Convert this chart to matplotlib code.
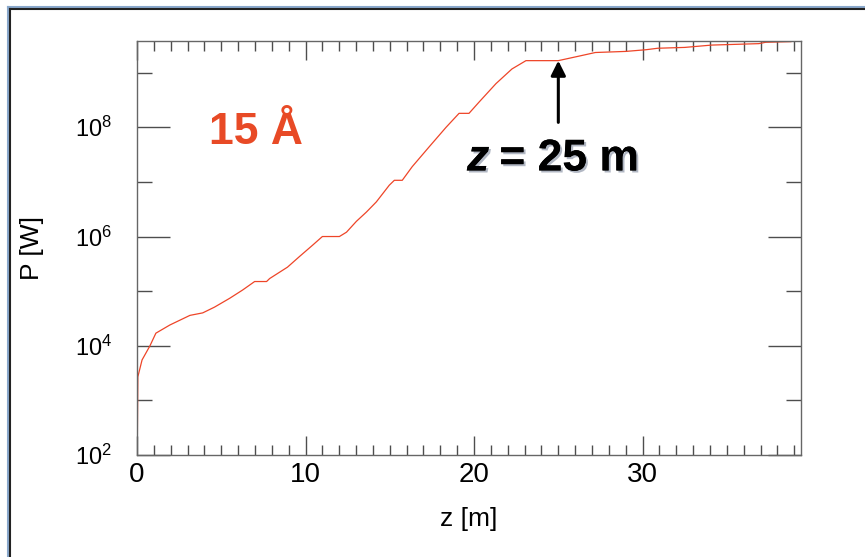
import matplotlib
matplotlib.use("Agg")
import matplotlib.pyplot as plt
import matplotlib.ticker as mticker
import matplotlib.patheffects as pe
from matplotlib.lines import Line2D

#Data
z_m = [0.0, 0.05, 0.3, 0.77, 1.12, 1.95, 3.14, 3.9, 4.6, 5.5, 6.27, 6.98, 7.69, 7.87,
       8.93, 9.64, 10.41, 11.0, 12.01, 12.43, 13.02, 13.61, 14.2, 14.97, 15.27, 15.74,
       16.33, 17.34, 18.34, 19.11, 19.7, 20.3, 21.3, 22.25, 23.08, 24.6, 25.0, 26.2,
       27.2, 29.0, 30.2, 30.9, 32.5, 34.1, 36.9, 37.3, 38.8]
power_W = [3.2e1, 2.7e3, 5.5e3, 1.0e4, 1.7e4, 2.4e4, 3.6e4, 4.0e4, 5.1e4, 7.4e4,
           1.05e5, 1.5e5, 1.5e5, 1.7e5, 2.75e5, 4.3e5, 6.9e5, 1.0e6, 1.0e6, 1.2e6,
           1.9e6, 2.8e6, 4.3e6, 8.7e6, 1.07e7, 1.07e7, 1.9e7, 4.4e7, 1.0e8, 1.8e8,
           1.8e8, 2.9e8, 6.3e8, 1.17e9, 1.66e9, 1.66e9, 1.66e9, 2.0e9, 2.34e9, 2.45e9,
           2.63e9, 2.8e9, 2.9e9, 3.2e9, 3.4e9, 3.6e9, 3.7e9]

x_major = [0, 10, 20, 30]
y_major = [1e2, 1e4, 1e6, 1e8]
y_labels = ["$10^{2}$", "$10^{4}$", "$10^{6}$", "$10^{8}$"]
y_minor = [1e3, 1e5, 1e7, 1e9]

wavelength_text = "15 Å"
marker_z = 25
marker_P = 1.66e9

red = "#ee4528"
tick_col = "0.3"

plt.rcParams["font.family"] = ["Liberation Sans", "DejaVu Sans"]
plt.rcParams["mathtext.default"] = "regular"

fig = plt.figure(figsize=(8.65, 5.57), dpi=100)
ax = fig.add_axes([137/865, 1-455/557, (801-137)/865, (455-41)/557])

ax.plot(z_m, power_W, color=red, linewidth=0.9)
ax.set_yscale("log")
ax.set_xlim(0, 39.4)
ax.set_ylim(1e2, 3.8e9)

#Ticks
ax.xaxis.set_major_locator(mticker.FixedLocator(x_major))
ax.xaxis.set_minor_locator(mticker.MultipleLocator(1))
ax.yaxis.set_major_locator(mticker.FixedLocator(y_major))
ax.yaxis.set_major_formatter(mticker.FixedFormatter(y_labels))
ax.yaxis.set_minor_locator(mticker.FixedLocator(y_minor))
ax.yaxis.set_minor_formatter(mticker.NullFormatter())
ax.tick_params(axis="x", which="both", direction="in", top=True, bottom=True, color=tick_col, width=1, labelsize=20, pad=5)
ax.tick_params(axis="x", which="major", length=14)
ax.tick_params(axis="x", which="minor", length=7)
ax.tick_params(axis="y", which="both", direction="in", left=True, right=True, color=tick_col, width=1, labelsize=17, pad=18)
ax.tick_params(axis="y", which="major", length=24)
ax.tick_params(axis="y", which="minor", length=11)
for s in ax.spines.values():
    s.set_color("0.4")
    s.set_linewidth(1)

ax.set_xlabel("z [m]", fontsize=19)
ax.xaxis.set_label_coords(0.5, -0.125)
ax.set_ylabel("P [W]", fontsize=19)
ax.yaxis.set_label_coords(-0.14, 0.5)

#Annotations
ax.text(4.3, 10**7.7, wavelength_text, color="#e84a26", fontsize=32, fontweight="bold", va="baseline", ha="left")
shadow = [pe.withSimplePatchShadow(offset=(1.5, -1.5), shadow_rgbFace="#223355", alpha=0.35), pe.Normal()]
ax.text(20.9, 10**7.21, "z", fontsize=32, fontweight="bold", fontstyle="italic", va="baseline", ha="right", path_effects=shadow)
ax.text(21.5, 10**7.21, "= 25 m", fontsize=32, fontweight="bold", va="baseline", ha="left", path_effects=shadow)
ax.annotate("", xy=(marker_z, marker_P), xytext=(marker_z, 10**8.09),
            arrowprops=dict(arrowstyle="-|>", lw=2.2, color="black", mutation_scale=22, shrinkA=0, shrinkB=0))

#Frame around the picture
fig.add_artist(Line2D([8/865, 8/865], [0, 1-7/557], transform=fig.transFigure, color="#8aa8cc", lw=1.5))
fig.add_artist(Line2D([8/865, 1], [1-7/557, 1-7/557], transform=fig.transFigure, color="#8aa8cc", lw=1.5))
fig.add_artist(Line2D([10/865, 10/865], [0, 1-9/557], transform=fig.transFigure, color="#222222", lw=1.5))
fig.add_artist(Line2D([10/865, 1], [1-9/557, 1-9/557], transform=fig.transFigure, color="#222222", lw=1.5))

fig.savefig("out.png", dpi=100)
